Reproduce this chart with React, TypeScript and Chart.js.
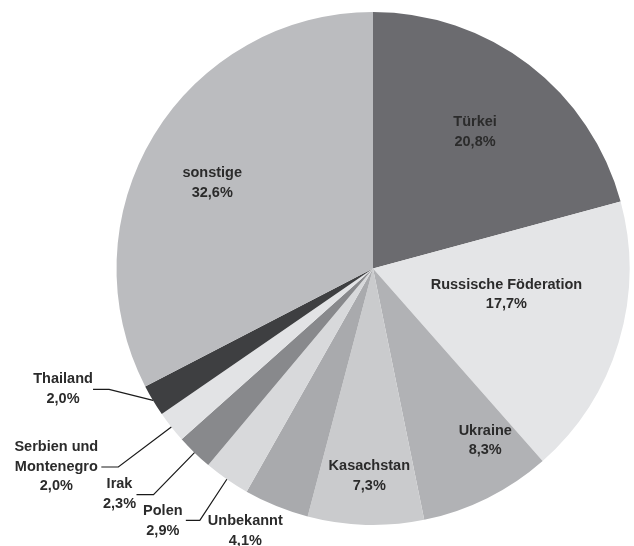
import React, { useEffect, useRef } from "react";
import { Chart, registerables } from "chart.js";

Chart.register(...registerables);

const labels = [
  "Türkei",
  "Russische Föderation",
  "Ukraine",
  "Kasachstan",
  "Unbekannt",
  "Polen",
  "Irak",
  "Serbien und Montenegro",
  "Thailand",
  "sonstige",
];
const values = [20.8, 17.7, 8.3, 7.3, 4.1, 2.9, 2.3, 2.0, 2.0, 32.6];
const valueLabels = ["20,8%", "17,7%", "8,3%", "7,3%", "4,1%", "2,9%", "2,3%", "2,0%", "2,0%", "32,6%"];
const colors = [
  "#6b6b6f",
  "#e4e5e7",
  "#b1b2b5",
  "#cacbcd",
  "#a9aaad",
  "#d8d9db",
  "#88898c",
  "#e2e3e5",
  "#3e3f41",
  "#bbbcbf",
];
const textLines = [
  ["Türkei"],
  ["Russische Föderation"],
  ["Ukraine"],
  ["Kasachstan"],
  ["Unbekannt"],
  ["Polen"],
  ["Irak"],
  ["Serbien und", "Montenegro"],
  ["Thailand"],
  ["sonstige"],
];

// inside label placement: angle offset (deg from slice middle) and radius fraction
type Inside = { kind: "in"; dAng: number; rf: number };
// outside label: elbow offset from edge point, line end offset, text block center offset (from edge point)
type Outside = {
  kind: "out";
  elbow: [number, number];
  end: [number, number];
  text: [number, number];
  noLine?: boolean;
};
const placements: (Inside | Outside)[] = [
  { kind: "in", dAng: -0.7, rf: 0.665 },
  { kind: "in", dAng: -5.7, rf: 0.53 },
  { kind: "in", dAng: -6.7, rf: 0.8 },
  { kind: "in", dAng: -0.6, rf: 0.81 },
  { kind: "out", elbow: [0, 0], end: [0, 0], text: [-31, 25], noLine: true },
  { kind: "out", elbow: [-27, 41], end: [-41, 41], text: [-64, 41.5] },
  { kind: "out", elbow: [-41, 42], end: [-58, 42], text: [-75, 41.5] },
  { kind: "out", elbow: [-53, 40], end: [-70, 40], text: [-115, 40] },
  { kind: "out", elbow: [-44, -11], end: [-60, -11], text: [-90, -11.5] },
  { kind: "in", dAng: -3.3, rf: 0.71 },
];

const labelPlugin = {
  id: "sliceLabels",
  afterDatasetsDraw(chart: any) {
    const ctx = chart.ctx as CanvasRenderingContext2D;
    const meta = chart.getDatasetMeta(0);
    ctx.save();
    ctx.font = "bold 14.5px 'Liberation Sans', Arial, sans-serif";
    ctx.fillStyle = "#2b2b2b";
    ctx.textAlign = "center";
    ctx.textBaseline = "middle";
    const lh = 19.5;
    meta.data.forEach((arc: any, i: number) => {
      const p = arc.getProps(["x", "y", "startAngle", "endAngle", "outerRadius"], true);
      const mid = (p.startAngle + p.endAngle) / 2;
      const lines = [...textLines[i], valueLabels[i]];
      const pl = placements[i];
      let cx: number, cy: number;
      if (pl.kind === "in") {
        const a = mid + (pl.dAng * Math.PI) / 180;
        cx = p.x + Math.cos(a) * p.outerRadius * pl.rf;
        cy = p.y + Math.sin(a) * p.outerRadius * pl.rf;
      } else {
        const ex = p.x + Math.cos(mid) * p.outerRadius;
        const ey = p.y + Math.sin(mid) * p.outerRadius;
        if (!pl.noLine) {
          ctx.beginPath();
          ctx.strokeStyle = "#1a1a1a";
          ctx.lineWidth = 1.2;
          ctx.moveTo(ex, ey);
          ctx.lineTo(ex + pl.elbow[0], ey + pl.elbow[1]);
          ctx.lineTo(ex + pl.end[0], ey + pl.end[1]);
          ctx.stroke();
        }
        cx = ex + pl.text[0];
        cy = ey + pl.text[1];
      }
      const top = cy - ((lines.length - 1) * lh) / 2;
      lines.forEach((t, k) => ctx.fillText(t, cx, top + k * lh));
    });
    ctx.restore();
  },
};

export default function App() {
  const ref = useRef<HTMLCanvasElement | null>(null);
  useEffect(() => {
    if (!ref.current) return;
    const chart = new Chart(ref.current, {
      type: "pie",
      data: {
        labels,
        datasets: [
          {
            data: values,
            backgroundColor: colors,
            borderWidth: 0,
          },
        ],
      },
      options: {
        animation: false,
        responsive: false,
        layout: { padding: { top: 12, bottom: 21, left: 116, right: 4 } },
        plugins: {
          legend: { display: false },
          tooltip: { enabled: false },
        },
      },
      plugins: [labelPlugin],
    });
    return () => chart.destroy();
  }, []);
  return (
    <div style={{ position: "fixed", left: 0, top: 0, width: 634, height: 546, background: "#fff" }}>
      <canvas ref={ref} width={634} height={546} style={{ width: 634, height: 546 }} />
    </div>
  );
}
